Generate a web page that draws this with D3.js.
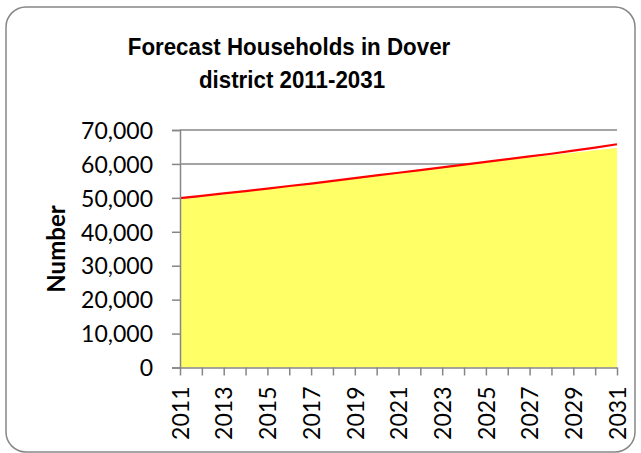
<!DOCTYPE html>
<html>
<head>
<meta charset="utf-8">
<script src="https://cdn.jsdelivr.net/npm/d3@7"></script>
<style>
  html, body { margin: 0; padding: 0; background: #fff; }
  svg { display: block; }
</style>
</head>
<body>
<svg id="chart" width="641" height="453"></svg>
<script>
// ---- data ----
const years = [2011,2012,2013,2014,2015,2016,2017,2018,2019,2020,2021,2022,2023,2024,2025,2026,2027,2028,2029,2030,2031];
const households = [49900,50600,51300,52000,52700,53500,54200,55000,55800,56600,57400,58200,59000,59800,60600,61400,62200,63000,63900,64800,65800];
const householdsArea = [49500,50300,51100,51900,52650,53450,54150,54950,55750,56550,57350,58150,58950,59750,60500,61200,61900,62600,63300,64000,64700];
const yTicks = [0,10000,20000,30000,40000,50000,60000,70000];
const xLabelYears = [2011,2013,2015,2017,2019,2021,2023,2025,2027,2029,2031];
const titleLines = ["Forecast Households in Dover", "district 2011-2031"];
const yAxisTitle = "Number";

// ---- layout ----
const svg = d3.select("#chart");
const plot = { left: 180, right: 617, top: 130, bottom: 367.5 };
const grey = "#868686";
const tickFont = "Lato, 'Open Sans', sans-serif";

// outer rounded border
svg.append("rect")
  .attr("x", 6).attr("y", 7).attr("width", 629).attr("height", 445)
  .attr("rx", 20).attr("ry", 20)
  .attr("fill", "#fff").attr("stroke", grey).attr("stroke-width", 1.5);

// title (slightly condensed bold sans)
const titleCx = [289, 292];
const title = svg.append("text")
  .attr("text-anchor", "middle")
  .attr("font-family", "'Liberation Sans', Arial, sans-serif")
  .attr("font-weight", "bold").attr("font-size", 24).attr("fill", "#000");
const tspans = title.selectAll("tspan").data(titleLines).join("tspan")
  .attr("x", (d, i) => titleCx[i]).attr("y", (d, i) => 55 + i * 33)
  .text(d => d);
tspans.each(function() {
  const w = this.getComputedTextLength();
  d3.select(this).attr("textLength", w * 0.93).attr("lengthAdjust", "spacingAndGlyphs");
});

// scales
const x = d3.scaleLinear().domain([years[0], years[years.length - 1]]).range([plot.left, plot.right]);
const y = d3.scaleLinear().domain([0, 70000]).range([plot.bottom, plot.top]);

// gridlines
svg.append("g").selectAll("line").data(yTicks.filter(v => v > 0)).join("line")
  .attr("x1", plot.left).attr("x2", plot.right)
  .attr("y1", d => y(d)).attr("y2", d => y(d))
  .attr("stroke", grey).attr("stroke-width", 1.5);

// area
const area = d3.area().x((d, i) => x(years[i])).y0(y(0)).y1(d => y(d));
svg.append("path").datum(householdsArea)
  .attr("d", area).attr("fill", "#FFFF66");

// line
const line = d3.line().x((d, i) => x(years[i])).y(d => y(d));
svg.append("path").datum(households)
  .attr("d", line).attr("fill", "none").attr("stroke", "#FF0000").attr("stroke-width", 2.2);

// y axis
const yAxis = d3.axisLeft(y).tickValues(yTicks).tickSize(8).tickPadding(19)
  .tickFormat(d3.format(","));
const gy = svg.append("g").attr("transform", `translate(${plot.left},0)`).call(yAxis);
gy.select(".domain").attr("stroke", grey).attr("stroke-width", 1.5);
gy.selectAll(".tick line").attr("stroke", grey).attr("stroke-width", 1.5);
gy.selectAll(".tick text").attr("font-family", tickFont).attr("font-size", 23).attr("fill", "#000")
  .attr("dy", "0.36em");

// x axis
const xAxis = d3.axisBottom(x).tickValues(years).tickSize(8).tickSizeOuter(0)
  .tickFormat(d => xLabelYears.includes(d) ? String(d) : "");
const gx = svg.append("g").attr("transform", `translate(0,${plot.bottom})`).call(xAxis);
gx.select(".domain").attr("stroke", grey).attr("stroke-width", 1.5);
gx.selectAll(".tick line").attr("stroke", grey).attr("stroke-width", 1.5);
gx.selectAll(".tick text")
  .attr("font-family", tickFont).attr("font-size", 23).attr("fill", "#000")
  .attr("text-anchor", "end")
  .attr("transform", "rotate(-90)")
  .attr("x", -19).attr("y", 0).attr("dy", "0.36em");

// y axis title
svg.append("text")
  .attr("transform", `translate(65,249) rotate(-90)`)
  .attr("text-anchor", "middle")
  .attr("font-family", tickFont).attr("font-weight", "bold").attr("font-size", 24)
  .attr("fill", "#000").text(yAxisTitle);
</script>
</body>
</html>
